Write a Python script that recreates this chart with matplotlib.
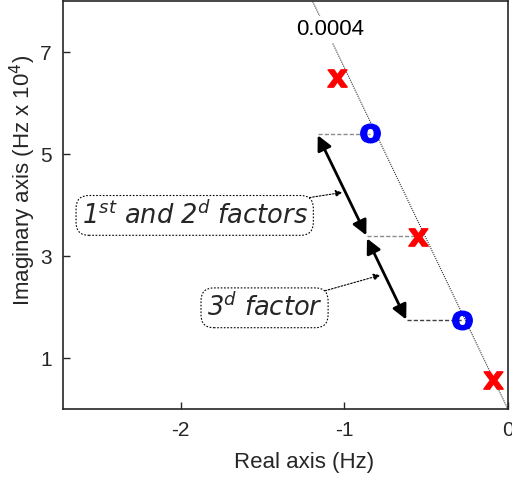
import numpy as np
import matplotlib
matplotlib.use('Agg')
import matplotlib.pyplot as plt

plt.rcParams['axes.unicode_minus'] = False
plt.rcParams['mathtext.fontset'] = 'dejavusans'

# poles (x) and zeros (o), real part in Hz, imaginary part in Hz x 10^4
pole_re = [-1.045, -0.551, -0.093]
pole_im = [6.50, 3.38, 0.57]
zero_re = [-0.846, -0.282]
zero_im = [5.42, 1.745]

# constant damping line and its label
damp_re = [0.0, -1.27]
damp_im = [0.0, 8.5]
damp_label = '0.0004'
damp_label_pos = (-1.085, 7.44)

# factor arrows (start, end)
arrow_re = [(-1.163, -0.866), (-0.862, -0.622)]
arrow_im = [(5.37, 3.41), (3.35, 1.76)]

# horizontal guide lines from arrow ends to the singularities
guide_y = [5.40, 3.39, 1.75]
guide_x0 = [-1.159, -0.862, -0.619]
guide_x1 = [-0.846, -0.551, -0.282]
guide_col = ['#8c8c8c', '#8c8c8c', '#404040']

# callouts
notes = ['1$^{st}$ and 2$^{d}$ factors', '3$^{d}$ factor']
note_pos = [(-1.915, 3.80), (-1.488, 1.99)]
note_tip = [(-1.012, 4.25), (-0.780, 2.63)]

xticks = [-2, -1, 0]
yticks = [1, 3, 5, 7]

fig = plt.figure(figsize=(5.12, 4.79), dpi=100)
ax = fig.add_axes([63/512, 1 - 409.4/479, 445/512, 408.4/479])
ax.set_xlim(-2.72, 0)
ax.set_ylim(0, 8)

axcol = '#262626'
arial = 'Liberation Sans'

ax.plot(damp_re, damp_im, ls=(0, (1, 1)), lw=0.8, color='#303030', zorder=1)
ax.text(damp_label_pos[0], damp_label_pos[1], damp_label, fontsize=16, family=arial,
        ha='center', va='center', color='k', zorder=2,
        bbox=dict(facecolor='white', edgecolor='none', pad=2))

for y, x0, x1, c in zip(guide_y, guide_x0, guide_x1, guide_col):
    ax.plot([x0, x1], [y, y], ls=(0, (3, 1.5)), lw=1.0, color=c, zorder=2)

for xs, ys in zip(arrow_re, arrow_im):
    ax.annotate('', xy=(xs[1], ys[1]), xytext=(xs[0], ys[0]),
                arrowprops=dict(arrowstyle='<|-|>', lw=2, color='k',
                                mutation_scale=22, shrinkA=0, shrinkB=0), zorder=3)

ax.plot(pole_re, pole_im, ls='none', marker=r'$\mathbf{x}$', ms=14, color='red', zorder=4)
ax.plot(zero_re, zero_im, ls='none', marker=r'$\mathbf{o}$', ms=14, color='blue', zorder=4)

for txt, pos, tip in zip(notes, note_pos, note_tip):
    ax.annotate(txt, xy=tip, xytext=pos, fontsize=18.5, style='italic',
                family='DejaVu Sans', color='#262626', ha='center', va='center',
                bbox=dict(boxstyle='round,pad=0.22,rounding_size=0.5', facecolor='white',
                          edgecolor='k', ls=(0, (1.5, 1.5)), lw=0.8),
                arrowprops=dict(arrowstyle='-|>', ls=(0, (1.5, 1.5)), lw=0.8, color='k',
                                mutation_scale=10, shrinkA=0, shrinkB=0))

ax.set_xticks(xticks)
ax.set_yticks(yticks)
ax.set_xticklabels([str(v) for v in xticks], family=arial, fontsize=15)
ax.set_yticklabels([str(v) for v in yticks], family=arial, fontsize=15)
ax.tick_params(direction='in', length=5, width=1, colors=axcol, pad=8)
for s in ax.spines.values():
    s.set_color(axcol)
    s.set_linewidth(1.2)

ax.set_xlabel('Real axis (Hz)', family=arial, fontsize=16, color=axcol, va='center')
ax.xaxis.set_label_coords(0.542, -0.131)
ax.set_ylabel('Imaginary axis (Hz x 10$^4$)', family=arial, fontsize=16, color=axcol,
              va='center')
ax.yaxis.set_label_coords(-0.09, 0.56)

fig.savefig('out.png', dpi=100)
